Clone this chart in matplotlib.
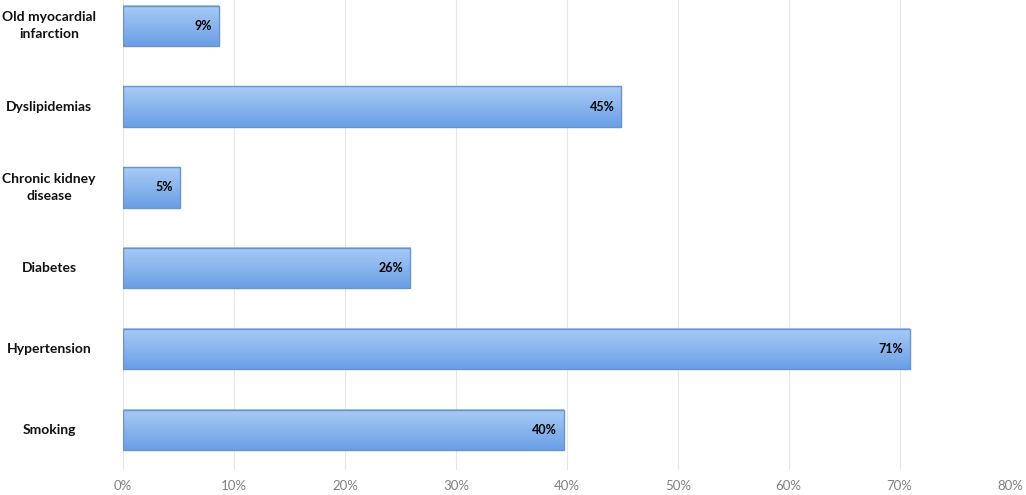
import matplotlib.pyplot as plt
import numpy as np
from matplotlib.colors import LinearSegmentedColormap
from matplotlib.transforms import blended_transform_factory

# data, bottom to top
labels = ['Smoking', 'Hypertension', 'Diabetes', 'Chronic kidney\ndisease', 'Dyslipidemias', 'Old myocardial\ninfarction']
values = [39.7, 70.9, 25.9, 5.1, 44.9, 8.6]
value_text = ['40%', '71%', '26%', '5%', '45%', '9%']
xticks = [0, 10, 20, 30, 40, 50, 60, 70, 80]

plt.rcParams['font.family'] = ['Lato', 'DejaVu Sans']

fig = plt.figure(figsize=(10.26, 4.95), dpi=100)
ax = fig.add_axes([0.12, 0.05, 0.865, 0.95])

grad = LinearSegmentedColormap.from_list('g', ['#a9cbf5', '#6a9fe6'])
g = np.linspace(1, 0, 64).reshape(-1, 1)  # row 0 (bottom) darkest
h = 0.5
for i, v in enumerate(values):
    # light on top, darker at bottom
    ax.imshow(g, cmap=grad, aspect='auto', extent=[0, v, i - h / 2, i + h / 2],
              origin='lower', zorder=2, interpolation='bilinear')
    ax.barh(i, v, height=h, facecolor='none', edgecolor='#6a93c9', linewidth=1, zorder=3)
    ax.text(v - 0.6, i, value_text[i], ha='right', va='center', fontsize=9,
            fontweight='bold', color='black', zorder=4)

trans = blended_transform_factory(ax.transAxes, ax.transData)
for i, lab in enumerate(labels):
    ax.text(-0.0833, i, lab, transform=trans, ha='center', va='center',
            fontsize=10, fontweight='bold', color='#111111', linespacing=1.5)

ax.set_xlim(0, 80)
ax.set_ylim(-0.5, 5.32)
ax.set_xticks(xticks)
ax.set_xticklabels([f'{t}%' for t in xticks], color='#808080', fontsize=9.5)
ax.set_yticks([])
ax.tick_params(axis='x', length=0, pad=7)
for s in ax.spines.values():
    s.set_visible(False)
ax.grid(axis='x', color='#e6e6e6', linewidth=0.8, zorder=0)
ax.set_axisbelow(True)

fig.savefig('out.png', dpi=100)
